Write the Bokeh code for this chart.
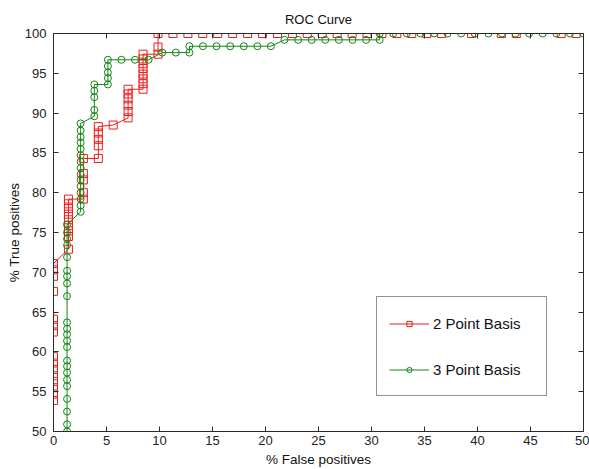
from bokeh.plotting import figure
from bokeh.models import Range1d, LinearAxis, FixedTicker, Legend, LegendItem, ColumnDataSource
from bokeh.embed import file_html
from bokeh.resources import INLINE

title_text = "ROC Curve"
x_label = "% False positives"
y_label = "% True positives"
series_names = ["2 Point Basis", "3 Point Basis"]
x_ticks = [0, 5, 10, 15, 20, 25, 30, 35, 40, 45, 50]
y_ticks = [50, 55, 60, 65, 70, 75, 80, 85, 90, 95, 100]

# 2 Point Basis
fp_2pt = [0, 0, 0, 0, 0, 0, 0, 0, 0, 0, 0, 0, 0, 0, 0,
          1.41, 1.41, 1.41, 1.41, 1.41, 1.41, 1.41, 1.41, 1.41,
          2.82, 2.82, 2.82, 2.82, 2.82,
          4.23, 4.23, 4.23, 4.23, 4.23,
          5.63,
          7.04, 7.04, 7.04, 7.04, 7.04, 7.04,
          8.45, 8.45, 8.45, 8.45, 8.45, 8.45, 8.45, 8.45,
          9.86, 9.86, 9.86,
          11.27, 12.68, 14.08, 15.49, 16.90, 18.31, 19.72, 21.13, 22.54, 23.94,
          25.35, 26.76, 28.17, 29.58, 30.99, 32.39, 33.80, 35.21, 36.62,
          39.44, 42.25, 43.66, 47.89, 49.30]
tp_2pt = [53.9, 54.7, 55.5, 56.3, 57.0, 57.8, 58.6, 59.4, 62.5, 63.3, 64.1, 67.6, 69.5, 70.3, 71.1,
          72.9, 74.5, 75.2, 75.9, 76.6, 77.3, 78.0, 78.6, 79.2,
          79.2, 80.0, 81.6, 82.4, 84.3,
          84.3, 85.9, 86.7, 87.5, 88.3,
          88.5,
          89.4, 90.2, 91.0, 91.8, 92.4, 93.0,
          93.0, 93.7, 94.3, 94.9, 95.6, 96.2, 96.8, 97.4,
          97.4, 98.3, 100,
          100, 100, 100, 100, 100, 100, 100, 100, 100, 100,
          100, 100, 100, 100, 100, 100, 100, 100, 100,
          100, 100, 100, 100, 100]

# 3 Point Basis
fp_3pt = [1.28, 1.28, 1.28, 1.28, 1.28, 1.28, 1.28, 1.28, 1.28, 1.28, 1.28, 1.28, 1.28, 1.28,
          1.28, 1.28, 1.28, 1.28, 1.28, 1.28, 1.28, 1.28, 1.28,
          2.56, 2.56, 2.56, 2.56, 2.56, 2.56, 2.56, 2.56, 2.56, 2.56, 2.56, 2.56, 2.56, 2.56, 2.56,
          3.85, 3.85, 3.85, 3.85, 3.85,
          5.13, 5.13, 5.13, 5.13, 5.13,
          6.41, 7.69, 8.97,
          10.26, 11.54, 12.82, 12.82,
          14.10, 15.38, 16.67, 17.95, 19.23, 20.51,
          21.79, 23.08, 24.36, 25.64, 26.92, 28.21, 29.49, 30.77,
          30.77, 32.05, 33.33, 34.62, 35.90, 37.18, 38.46, 39.74, 41.03, 42.31,
          43.59, 44.87, 46.15, 47.44, 48.72, 50.0]
tp_3pt = [50.0, 50.9, 52.5, 54.1, 55.7, 56.5, 57.4, 58.2, 58.9, 60.6, 61.4, 62.2, 62.9, 63.7,
          67.0, 68.6, 69.5, 70.2, 71.9, 73.4, 74.2, 75.0, 76.0,
          77.6, 78.4, 79.2, 80.0, 80.8, 81.6, 82.3, 83.1, 83.9, 84.7, 85.5, 86.3, 87.0, 87.8, 88.7,
          89.6, 90.4, 92.0, 92.8, 93.6,
          93.6, 94.4, 95.1, 95.9, 96.7,
          96.7, 96.7, 96.7,
          97.6, 97.6, 97.6, 98.4,
          98.4, 98.4, 98.4, 98.4, 98.4, 98.4,
          99.2, 99.2, 99.2, 99.2, 99.2, 99.2, 99.2, 99.2,
          100, 100, 100, 100, 100, 100, 100, 100, 100, 100,
          100, 100, 100, 100, 100, 100]

RED = "#ee1b1b"
GREEN = "#128512"
FONT = "Liberation Sans"
AXC = "#2a2a2a"

p = figure(width=589, height=469, output_backend="svg", toolbar_location=None,
           x_range=Range1d(0, 50), y_range=Range1d(50, 100), title=title_text,
           x_axis_label=x_label, y_axis_label=y_label)
p.min_border_left = 53
p.min_border_right = 6
p.min_border_top = 33
p.min_border_bottom = 38
p.background_fill_color = "white"
p.border_fill_color = "white"
p.outline_line_color = None
p.xgrid.visible = False
p.ygrid.visible = False

p.title.align = "center"
p.title.text_font = FONT
p.title.text_font_size = "13px"
p.title.text_font_style = "normal"
p.title.text_color = "#111111"
p.title.standoff = 13

def style_axis(ax, labels=True):
    ax.axis_line_color = AXC
    ax.major_tick_line_color = AXC
    ax.major_tick_in = 5
    ax.major_tick_out = 0
    ax.minor_tick_line_color = None
    ax.major_label_text_font = FONT
    ax.major_label_text_font_size = "13px"
    ax.major_label_text_color = "#222222"
    ax.axis_label_text_font = FONT
    ax.axis_label_text_font_size = "13.5px"
    ax.axis_label_text_font_style = "normal"
    ax.axis_label_text_color = "#111111"
    if not labels:
        ax.major_label_text_font_size = "0px"
        ax.major_label_text_color = None
        ax.major_label_standoff = 0

p.xaxis.ticker = FixedTicker(ticks=x_ticks)
p.yaxis.ticker = FixedTicker(ticks=y_ticks)
for ax in p.xaxis:
    style_axis(ax)
    ax.major_label_standoff = 4
    ax.axis_label_standoff = 4
for ax in p.yaxis:
    style_axis(ax)
    ax.major_label_standoff = 7
    ax.axis_label_standoff = 0

top = LinearAxis(ticker=FixedTicker(ticks=x_ticks))
style_axis(top, labels=False)
p.add_layout(top, "above")
right = LinearAxis(ticker=FixedTicker(ticks=y_ticks))
style_axis(right, labels=False)
p.add_layout(right, "right")

src2 = ColumnDataSource(dict(x=fp_2pt, y=tp_2pt))
src3 = ColumnDataSource(dict(x=fp_3pt, y=tp_3pt))

r2l = p.line("x", "y", source=src2, line_color=RED, line_width=1)
r2m = p.scatter("x", "y", source=src2, marker="square", size=8, fill_color=None,
                line_color=RED, line_width=1)
r3l = p.line("x", "y", source=src3, line_color=GREEN, line_width=1)
r3m = p.scatter("x", "y", source=src3, marker="circle", size=7, fill_color=None,
                line_color=GREEN, line_width=1)

legend = Legend(items=[LegendItem(label=series_names[0], renderers=[r2l, r2m]),
                       LegendItem(label=series_names[1], renderers=[r3l, r3m])],
                location=(323, 35))
legend.padding = 12
legend.spacing = 18
legend.glyph_height = 13
legend.glyph_width = 40
legend.label_height = 28
legend.label_standoff = 4
legend.label_width = 101
legend.margin = 0
legend.label_text_font = FONT
legend.label_text_font_size = "15px"
legend.label_text_color = "#111111"
legend.border_line_color = "#222222"
legend.border_line_width = 1
legend.background_fill_color = "white"
legend.background_fill_alpha = 1
p.add_layout(legend)

open("out.html", "w").write(file_html(p, INLINE))
